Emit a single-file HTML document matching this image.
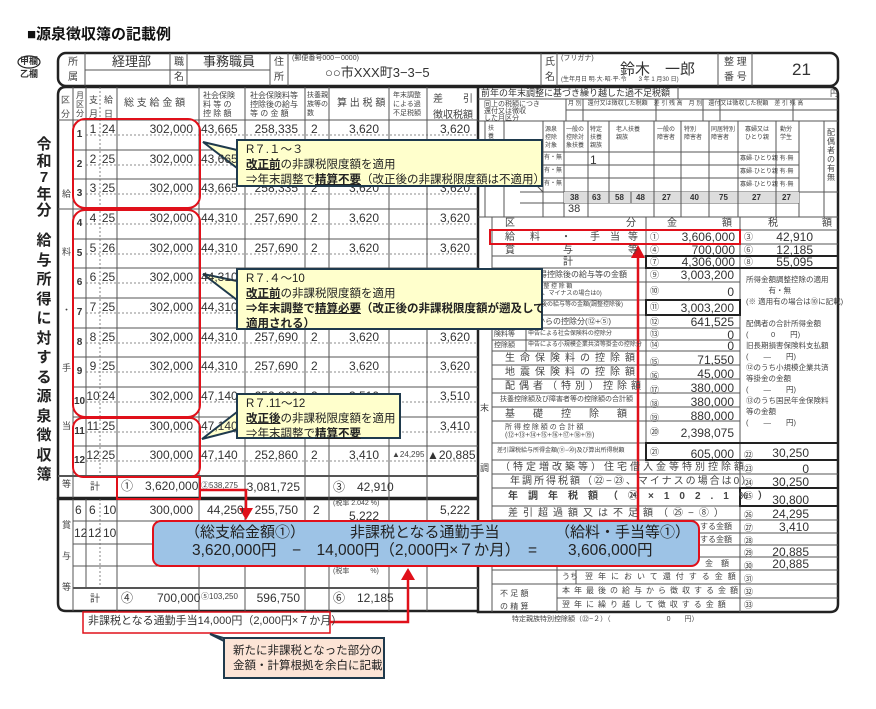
<!DOCTYPE html>
<html><head><meta charset="utf-8">
<style>
html,body{margin:0;padding:0;background:#fff;}
body{width:876px;height:709px;position:relative;overflow:hidden;font-family:"Liberation Sans","Noto Sans CJK JP",sans-serif;color:#333;}
.t{position:absolute;white-space:nowrap;line-height:1;}
.n{font-size:12px;}
.r{text-align:right;}
.c{text-align:center;}
.s{font-size:8px;color:#444;}
.m{font-size:10px;color:#444;}
.v{font-size:15px;font-weight:bold;color:#222;}
.co{position:absolute;font-size:11.5px;line-height:15px;color:#222;padding:2px 0 0 8px;box-sizing:border-box;white-space:nowrap;}
.co b{font-weight:bold;text-decoration:underline;}
svg{position:absolute;left:0;top:0;}
</style></head><body>
<svg width="876" height="709">
<rect x="58" y="53" width="780" height="33" rx="8" fill="none" stroke="#222" stroke-width="2.5"/>
<g stroke="#555" stroke-width="1">
<line x1="85" y1="53" x2="85" y2="86"/><line x1="170" y1="53" x2="170" y2="86"/><line x1="187" y1="53" x2="187" y2="86"/>
<line x1="270" y1="53" x2="270" y2="86"/><line x1="288" y1="53" x2="288" y2="86"/>
<line x1="85" y1="70" x2="270" y2="70"/>
<line x1="541" y1="53" x2="541" y2="86"/><line x1="557" y1="53" x2="557" y2="86"/>
<line x1="718" y1="53" x2="718" y2="86"/><line x1="752" y1="53" x2="752" y2="86"/>
</g>
<ellipse cx="29" cy="62" rx="11" ry="6" fill="none" stroke="#222" stroke-width="1.2"/>
<path d="M478 87 L66 87 Q58 87 58 95 L58 498 L478 498" fill="none" stroke="#222" stroke-width="2.5"/>
<path d="M478 499 L58 499 L58 603 Q58 611 66 611 L478 611" fill="none" stroke="#222" stroke-width="2.5"/>
<path d="M478 87 L830 87 Q838 87 838 95 L838 604 Q838 612 830 612 L478 612 Z" fill="none" stroke="#222" stroke-width="2.5"/>
<g stroke="#555" stroke-width="1">
<line x1="73" y1="87" x2="73" y2="476"/><line x1="86" y1="87" x2="86" y2="476"/>
<line x1="117" y1="87" x2="117" y2="611"/><line x1="199" y1="87" x2="199" y2="611"/>
<line x1="245" y1="87" x2="245" y2="611"/><line x1="305" y1="87" x2="305" y2="611"/>
<line x1="329" y1="87" x2="329" y2="611"/><line x1="389" y1="87" x2="389" y2="611"/>
<line x1="427" y1="87" x2="427" y2="611"/>
<line x1="73" y1="499" x2="73" y2="588"/><line x1="86" y1="499" x2="86" y2="588"/>
<line x1="73" y1="476" x2="73" y2="498"/><line x1="73" y1="588" x2="73" y2="611"/>
<line x1="58" y1="120" x2="478" y2="120"/>
<line x1="73" y1="150" x2="478" y2="150"/><line x1="73" y1="179" x2="478" y2="179"/>
<line x1="58" y1="209" x2="478" y2="209"/><line x1="73" y1="239" x2="478" y2="239"/>
<line x1="73" y1="268" x2="478" y2="268"/><line x1="73" y1="298" x2="478" y2="298"/>
<line x1="73" y1="328" x2="478" y2="328"/><line x1="73" y1="357" x2="478" y2="357"/>
<line x1="73" y1="387" x2="478" y2="387"/><line x1="73" y1="417" x2="478" y2="417"/>
<line x1="73" y1="446" x2="478" y2="446"/>
<line x1="58" y1="476" x2="478" y2="476" stroke-width="2"/>
<line x1="73" y1="521" x2="478" y2="521"/><line x1="73" y1="544" x2="478" y2="544"/>
<line x1="73" y1="566" x2="478" y2="566"/><line x1="73" y1="588" x2="478" y2="588" stroke-width="2"/>
</g>
<g stroke="#666" stroke-width="0.8" stroke-dasharray="2,2">
<line x1="100" y1="87" x2="100" y2="476"/><line x1="100" y1="499" x2="100" y2="588"/>
<line x1="86" y1="135" x2="478" y2="135"/><line x1="86" y1="165" x2="478" y2="165"/>
<line x1="86" y1="194" x2="478" y2="194"/><line x1="86" y1="224" x2="478" y2="224"/>
<line x1="86" y1="254" x2="478" y2="254"/><line x1="86" y1="283" x2="478" y2="283"/>
<line x1="86" y1="313" x2="478" y2="313"/><line x1="86" y1="343" x2="478" y2="343"/>
<line x1="86" y1="372" x2="478" y2="372"/><line x1="86" y1="402" x2="478" y2="402"/>
<line x1="86" y1="432" x2="478" y2="432"/><line x1="86" y1="461" x2="478" y2="461"/>
</g>
<g stroke="#555" stroke-width="1">
<line x1="478" y1="99" x2="838" y2="99"/><line x1="678" y1="87" x2="678" y2="99"/>
<line x1="478" y1="121" x2="838" y2="121"/><line x1="566" y1="110" x2="838" y2="110"/>
<line x1="566" y1="99" x2="566" y2="121"/><line x1="583" y1="99" x2="583" y2="121"/><line x1="656" y1="99" x2="656" y2="121"/>
<line x1="703" y1="99" x2="703" y2="121"/><line x1="720" y1="99" x2="720" y2="121"/><line x1="793" y1="99" x2="793" y2="121"/>
<line x1="485" y1="121" x2="485" y2="217"/><line x1="504" y1="121" x2="504" y2="217"/>
<line x1="543" y1="121" x2="543" y2="217"/><line x1="564" y1="121" x2="564" y2="217"/>
<line x1="588" y1="121" x2="588" y2="217"/><line x1="609" y1="121" x2="609" y2="203"/>
<line x1="654" y1="121" x2="654" y2="217"/><line x1="681" y1="121" x2="681" y2="217"/>
<line x1="709" y1="121" x2="709" y2="217"/><line x1="738" y1="121" x2="738" y2="217"/>
<line x1="776" y1="121" x2="776" y2="217"/><line x1="799" y1="121" x2="799" y2="217"/>
<line x1="824" y1="121" x2="824" y2="217"/>
<line x1="543" y1="152" x2="799" y2="152"/><line x1="543" y1="165" x2="799" y2="165"/>
<line x1="543" y1="178" x2="799" y2="178"/><line x1="520" y1="192" x2="838" y2="192"/>
<line x1="520" y1="203" x2="799" y2="203"/><line x1="478" y1="217" x2="838" y2="217"/>
<line x1="504" y1="152" x2="543" y2="192"/>
</g>
<rect x="564" y="192" width="235" height="11" fill="#ddd"/>
<g stroke="#555" stroke-width="1">
<line x1="588" y1="192" x2="588" y2="203"/><line x1="609" y1="192" x2="609" y2="203"/><line x1="631" y1="192" x2="631" y2="203"/>
<line x1="654" y1="192" x2="654" y2="203"/><line x1="681" y1="192" x2="681" y2="203"/><line x1="709" y1="192" x2="709" y2="203"/>
<line x1="738" y1="192" x2="738" y2="203"/><line x1="776" y1="192" x2="776" y2="203"/>
<line x1="492" y1="217" x2="492" y2="612"/>
<line x1="646" y1="217" x2="646" y2="460"/><line x1="740" y1="217" x2="740" y2="612"/>
<line x1="492" y1="230" x2="838" y2="230"/><line x1="492" y1="244" x2="838" y2="244"/>
<line x1="492" y1="256" x2="838" y2="256"/><line x1="492" y1="268" x2="838" y2="268"/>
<line x1="492" y1="282" x2="740" y2="282"/><line x1="492" y1="300" x2="740" y2="300"/>
<line x1="492" y1="315" x2="740" y2="315"/><line x1="492" y1="328" x2="740" y2="328"/>
<line x1="492" y1="340" x2="740" y2="340"/><line x1="492" y1="351" x2="740" y2="351"/>
<line x1="492" y1="365" x2="740" y2="365"/><line x1="492" y1="379" x2="740" y2="379"/>
<line x1="492" y1="393" x2="740" y2="393"/><line x1="492" y1="407" x2="740" y2="407"/>
<line x1="492" y1="421" x2="740" y2="421"/><line x1="492" y1="443" x2="838" y2="443"/>
<line x1="492" y1="460" x2="838" y2="460"/><line x1="492" y1="474" x2="838" y2="474"/>
<line x1="492" y1="488" x2="838" y2="488"/><line x1="492" y1="506" x2="838" y2="506"/>
<line x1="492" y1="520" x2="838" y2="520"/><line x1="557" y1="533" x2="838" y2="533"/>
<line x1="557" y1="545" x2="838" y2="545"/><line x1="557" y1="557" x2="838" y2="557"/>
<line x1="492" y1="570" x2="838" y2="570"/><line x1="492" y1="584" x2="838" y2="584"/>
<line x1="557" y1="598" x2="838" y2="598"/>
<line x1="557" y1="520" x2="557" y2="612"/><line x1="576" y1="570" x2="576" y2="584"/>
<line x1="526" y1="328" x2="526" y2="351"/>
</g>
<g fill="none" stroke="#222" stroke-width="2">
<rect x="646" y="256" width="192" height="12"/><rect x="646" y="300" width="94" height="15"/>
<rect x="646" y="443" width="192" height="17"/><rect x="740" y="488" width="98" height="18"/>
</g>
<g fill="none" stroke="#e0101a" stroke-width="2">
<rect x="73" y="119" width="127" height="89" rx="12"/>
<rect x="73" y="210" width="127" height="207" rx="12"/>
<rect x="73" y="418" width="127" height="59" rx="10"/>
<rect x="117" y="477" width="83" height="22"/>
<rect x="490" y="230" width="250" height="14"/>
<rect x="83" y="612" width="247" height="21" stroke-width="1.5"/>
</g>
<g stroke="#e0101a" stroke-width="2.5" fill="none">
<polyline points="200,490 246,490 246,510"/>
<polyline points="330,622 408,622 408,578"/>
<line x1="638" y1="256" x2="638" y2="520"/>
</g>
<g fill="#e0101a">
<polygon points="239,508 253,508 246,520"/>
<polygon points="401,580 415,580 408,568"/>
<polygon points="631,258 645,258 638,245"/>
</g>
<g fill="#ffffcc" stroke="#1f3a4d" stroke-width="2">
<polygon points="237,150 203,142 237,168"/>
<polygon points="237,281 203,274 237,300"/>
<polygon points="237,412 202,439 237,430"/>
</g>
<polygon points="230,640 210,634 242,650" fill="#fce4d6" stroke="#1f3a4d" stroke-width="2"/>
</svg>

<div class="t" style="left:27px;top:27px;font-size:15px;font-weight:bold;color:#111">■源泉徴収簿の記載例</div>
<div class="t" style="left:20px;top:57px;font-size:9px;font-weight:bold">甲欄</div>
<div class="t" style="left:20px;top:70px;font-size:9px;font-weight:bold">乙欄</div>
<div class="t m" style="left:68px;top:58px">所</div><div class="t m" style="left:68px;top:73px">属</div>
<div class="t" style="left:112px;top:55px;font-size:13px">経理部</div>
<div class="t m" style="left:174px;top:58px">職</div><div class="t m" style="left:174px;top:73px">名</div>
<div class="t" style="left:203px;top:55px;font-size:13px">事務職員</div>
<div class="t m" style="left:274px;top:58px">住</div><div class="t m" style="left:274px;top:73px">所</div>
<div class="t s" style="left:292px;top:55px;font-size:7px">(郵便番号000－0000)</div>
<div class="t" style="left:325px;top:66px;font-size:13px">○○市XXX町3−3−5</div>
<div class="t m" style="left:545px;top:58px">氏</div><div class="t m" style="left:545px;top:73px">名</div>
<div class="t s" style="left:561px;top:55px;font-size:7px">(フリガナ)</div>
<div class="t" style="left:620px;top:62px;font-size:15px">鈴木　一郎</div>
<div class="t s" style="left:561px;top:77px;font-size:6px">(生年月日 明·大·昭·平·令　　3 年 1 月30 日)</div>
<div class="t m" style="left:724px;top:58px">整 理</div><div class="t m" style="left:724px;top:73px">番 号</div>
<div class="t" style="left:792px;top:61px;font-size:17px">21</div>

<div class="t v" style="left:36px;top:137px;line-height:16.5px;width:16px;text-align:center">令<br>和<br>7<br>年<br>分</div>
<div class="t v" style="left:36px;top:231px;line-height:19.5px;width:16px;text-align:center">給<br>与<br>所<br>得<br>に<br>対<br>す<br>る<br>源<br>泉<br>徴<br>収<br>簿</div>

<div class="t s" style="left:61px;top:93px;font-size:9px;line-height:14px">区<br>分</div>
<div class="t s" style="left:76px;top:91px;font-size:8px;line-height:9px">月<br>区<br>分</div>
<div class="t s" style="left:89px;top:93px;font-size:9px;line-height:14px">支<br>月</div>
<div class="t s" style="left:104px;top:93px;font-size:9px;line-height:14px">給<br>日</div>
<div class="t m" style="left:124px;top:99px">総 支 給 金 額</div>
<div class="t s" style="left:203px;top:91px;line-height:9px">社会保険<br>料 等 の<br>控 除 額</div>
<div class="t s" style="left:250px;top:91px;line-height:9px">社会保険料等<br>控除後の給与<br>等 の 金 額</div>
<div class="t s" style="left:307px;top:91px;font-size:7px;line-height:9px">扶養親<br>族等の<br>数</div>
<div class="t m" style="left:337px;top:99px">算 出 税 額</div>
<div class="t s" style="left:393px;top:91px;font-size:7px;line-height:9px">年末調整<br>による過<br>不足税額</div>
<div class="t m" style="left:433px;top:92px;line-height:16px">差　　引<br>徴収税額</div>
<div class="t s" style="left:62px;top:165px;line-height:58px;font-size:9px">給<br>料<br>・<br>手<br>当<br>等</div>

<div class="t n c" style="left:73px;width:13px;top:120px;font-size:10px;font-weight:bold;line-height:29.67px">1<br>2<br>3<br>4<br>5<br>6<br>7<br>8<br>9<br>10<br>11<br>12</div>
<div class="t n c" style="left:86px;width:14px;top:115px;line-height:29.67px">1<br>2<br>3<br>4<br>5<br>6<br>7<br>8<br>9<br>10<br>11<br>12</div>
<div class="t n c" style="left:100px;width:17px;top:115px;line-height:29.67px">24<br>25<br>25<br>25<br>26<br>25<br>25<br>25<br>25<br>24<br>25<br>25</div>
<div class="t n r" style="left:120px;width:73px;top:115px;line-height:29.67px">302,000<br>302,000<br>302,000<br>302,000<br>302,000<br>302,000<br>302,000<br>302,000<br>302,000<br>302,000<br>300,000<br>300,000</div>
<div class="t n" style="left:201px;top:115px;line-height:29.67px">43,665<br>43,665<br>43,665<br>44,310<br>44,310<br>44,310<br>44,310<br>44,310<br>44,310<br>47,140<br>47,140<br>47,140</div>
<div class="t n r" style="left:245px;width:53px;top:115px;line-height:29.67px">258,335<br>258,335<br>258,335<br>257,690<br>257,690<br>257,690<br>257,690<br>257,690<br>257,690<br>252,860<br>252,860<br>252,860</div>
<div class="t n" style="left:311px;top:115px;line-height:29.67px">2<br>2<br>2<br>2<br>2<br>2<br>2<br>2<br>2<br>2<br>2<br>2</div>
<div class="t n r" style="left:329px;width:50px;top:115px;line-height:29.67px">3,620<br>3,620<br>3,620<br>3,620<br>3,620<br>3,620<br>3,620<br>3,620<br>3,620<br>3,510<br>3,410<br>3,410</div>
<div class="t n r" style="left:427px;width:43px;top:115px;line-height:29.67px">3,620<br>3,620<br>3,620<br>3,620<br>3,620<br>3,620<br>3,620<br>3,620<br>3,620<br>3,510<br>3,410<br>▲20,885</div>
<div class="t s" style="left:392px;top:451px;font-size:8px">▲24,295</div>
<div class="t m" style="left:90px;top:483px">計</div>
<div class="t n" style="left:121px;top:480px">①　3,620,000</div>
<div class="t s" style="left:201px;top:482px;font-size:8px">②538,275</div>
<div class="t n r" style="left:245px;width:55px;top:481px">3,081,725</div>
<div class="t n" style="left:333px;top:481px">③　42,910</div>
<div class="t s" style="left:62px;top:510px;line-height:31px;font-size:9px">賞<br>与<br>等</div>
<div class="t n" style="left:75px;top:504px">6</div><div class="t n" style="left:89px;top:504px">6</div><div class="t n" style="left:103px;top:504px">10</div>
<div class="t n r" style="left:120px;width:73px;top:504px">300,000</div>
<div class="t n" style="left:207px;top:504px">44,250</div>
<div class="t n r" style="left:245px;width:53px;top:504px">255,750</div>
<div class="t n" style="left:313px;top:504px">2</div>
<div class="t s" style="left:333px;top:500px;font-size:7px">(税率 2.042 %)</div>
<div class="t n r" style="left:329px;width:50px;top:510px">5,222</div>
<div class="t n r" style="left:427px;width:43px;top:504px">5,222</div>
<div class="t n" style="left:74px;top:527px">12</div><div class="t n" style="left:88px;top:527px">12</div><div class="t n" style="left:103px;top:527px">10</div>
<div class="t s" style="left:333px;top:568px;font-size:7px">(税率　　　%)</div>
<div class="t m" style="left:90px;top:595px">計</div>
<div class="t n" style="left:121px;top:592px">④　　700,000</div>
<div class="t s" style="left:201px;top:593px;font-size:8px">⑤103,250</div>
<div class="t n r" style="left:245px;width:55px;top:592px">596,750</div>
<div class="t n" style="left:333px;top:592px">⑥　12,185</div>

<div class="t" style="left:481px;top:89px;font-size:9px">前年の年末調整に基づき繰り越した過不足税額</div>
<div class="t s" style="left:830px;top:90px">円</div>
<div class="t s" style="left:484px;top:101px;font-size:7px;line-height:7px">同上の税額につき<br>還付又は徴収<br>した月区分</div>
<div class="t s" style="left:568px;top:101px;font-size:6px">月 別　還付又は徴収した税額　差 引 残 高　月 別　還付又は徴収した税額　差 引 残 高</div>
<div class="t s" style="left:488px;top:125px;font-size:6px;line-height:8px">扶<br>養<br>控<br>除<br>額</div>
<div class="t s" style="left:545px;top:126px;font-size:6px;line-height:8px">源泉<br>控除<br>対象</div>
<div class="t s" style="left:566px;top:126px;font-size:6px;line-height:8px">一般の<br>控除対<br>象扶養</div>
<div class="t s" style="left:590px;top:126px;font-size:6px;line-height:8px">特定<br>扶養<br>親族</div>
<div class="t s" style="left:616px;top:126px;font-size:6px;line-height:8px">老人扶養<br>親族</div>
<div class="t s" style="left:657px;top:126px;font-size:6px;line-height:8px">一般の<br>障害者</div>
<div class="t s" style="left:684px;top:126px;font-size:6px;line-height:8px">特別<br>障害者</div>
<div class="t s" style="left:711px;top:126px;font-size:6px;line-height:8px">同居特別<br>障害者</div>
<div class="t s" style="left:745px;top:126px;font-size:6px;line-height:8px">寡婦又は<br>ひとり親</div>
<div class="t s" style="left:780px;top:126px;font-size:6px;line-height:8px">勤労<br>学生</div>
<div class="t n" style="left:590px;top:154px">1</div>
<div class="t s" style="left:544px;top:155px;font-size:6px">有・無</div>
<div class="t s" style="left:544px;top:168px;font-size:6px">有・無</div>
<div class="t s" style="left:544px;top:181px;font-size:6px">有・無</div>
<div class="t s" style="left:740px;top:156px;font-size:6px">寡婦·ひとり親 有·無</div>
<div class="t s" style="left:740px;top:169px;font-size:6px">寡婦·ひとり親 有·無</div>
<div class="t s" style="left:740px;top:182px;font-size:6px">寡婦·ひとり親 有·無</div>
<div class="t" style="left:570px;top:194px;font-size:8px;font-weight:bold">38</div>
<div class="t" style="left:592px;top:194px;font-size:8px;font-weight:bold">63</div>
<div class="t" style="left:615px;top:194px;font-size:8px;font-weight:bold">58</div>
<div class="t" style="left:636px;top:194px;font-size:8px;font-weight:bold">48</div>
<div class="t" style="left:662px;top:194px;font-size:8px;font-weight:bold">27</div>
<div class="t" style="left:690px;top:194px;font-size:8px;font-weight:bold">40</div>
<div class="t" style="left:719px;top:194px;font-size:8px;font-weight:bold">75</div>
<div class="t" style="left:752px;top:194px;font-size:8px;font-weight:bold">27</div>
<div class="t" style="left:782px;top:194px;font-size:8px;font-weight:bold">27</div>
<div class="t n" style="left:568px;top:204px;font-size:11px">38</div>
<div class="t s" style="left:827px;top:128px;font-size:8px;line-height:9px">配<br>偶<br>者<br>の<br>有<br>無</div>

<div class="t m" style="left:505px;top:219px">区</div><div class="t m" style="left:626px;top:219px">分</div>
<div class="t m" style="left:667px;top:219px">金</div><div class="t m" style="left:722px;top:219px">額</div>
<div class="t m" style="left:768px;top:219px">税</div><div class="t m" style="left:822px;top:219px">額</div>
<div class="t m" style="left:505px;top:233px">給</div><div class="t m" style="left:530px;top:233px">料</div><div class="t m" style="left:561px;top:233px">・</div><div class="t m" style="left:590px;top:233px">手</div><div class="t m" style="left:610px;top:233px">当</div><div class="t m" style="left:628px;top:233px">等</div>
<div class="t m" style="left:505px;top:246px">賞</div><div class="t m" style="left:563px;top:246px">与</div><div class="t m" style="left:628px;top:246px">等</div>
<div class="t m" style="left:563px;top:258px">計</div>
<div class="t s" style="left:650px;top:233px;font-size:9px">①</div>
<div class="t s" style="left:650px;top:246px;font-size:9px">④</div>
<div class="t s" style="left:650px;top:258px;font-size:9px">⑦</div>
<div class="t n r" style="left:646px;width:89px;top:231px">3,606,000</div>
<div class="t n r" style="left:646px;width:89px;top:244px">700,000</div>
<div class="t n r" style="left:646px;width:89px;top:256px">4,306,000</div>
<div class="t s" style="left:744px;top:233px;font-size:9px">③</div>
<div class="t s" style="left:744px;top:246px;font-size:9px">⑥</div>
<div class="t s" style="left:744px;top:258px;font-size:9px">⑧</div>
<div class="t n r" style="left:740px;width:73px;top:231px">42,910</div>
<div class="t n r" style="left:740px;width:73px;top:244px">12,185</div>
<div class="t n r" style="left:740px;width:73px;top:256px">55,095</div>

<div class="t s" style="left:515px;top:271px">給与所得控除後の給与等の金額</div>
<div class="t s" style="left:505px;top:284px;font-size:6px;line-height:7px">所 得 金 額 調 整 控 除 額<br>(　　円)×10%、マイナスの場合は0)</div>
<div class="t s" style="left:505px;top:302px;font-size:6px;line-height:6px">給与所得控除後の給与等の金額(調整控除後)<br>(⑨−⑩)</div>
<div class="t s" style="left:505px;top:318px">給与所得からの控除分(⑫+⑤)</div>
<div class="t s" style="left:494px;top:331px;font-size:7px">険料等</div><div class="t s" style="left:494px;top:342px;font-size:7px">控除額</div>
<div class="t s" style="left:528px;top:331px;font-size:6px">申告による社会保険料の控除分</div>
<div class="t s" style="left:528px;top:342px;font-size:6px">申告による小規模企業共済等掛金の控除分</div>
<div class="t m" style="left:505px;top:354px;letter-spacing:5px">生命保険料の控除額</div>
<div class="t m" style="left:505px;top:368px;letter-spacing:5px">地震保険料の控除額</div>
<div class="t m" style="left:505px;top:382px;letter-spacing:4px">配偶者（特別）控除額</div>
<div class="t s" style="left:500px;top:396px;font-size:7px">扶養控除額及び障害者等の控除額の合計額</div>
<div class="t m" style="left:505px;top:410px;letter-spacing:18px">基礎控除額</div>
<div class="t s" style="left:505px;top:424px;font-size:7px;line-height:8px">所 得 控 除 額 の 合 計 額<br>(⑫+⑬+⑭+⑮+⑯+⑰+⑱+⑲)</div>
<div class="t s" style="left:497px;top:448px;font-size:6px">差引課税給与所得金額(⑪−⑳)及び算出所得税額</div>
<div class="t s" style="left:650px;top:271px;font-size:9px">⑨</div>
<div class="t s" style="left:650px;top:287px;font-size:9px">⑩</div>
<div class="t s" style="left:650px;top:303px;font-size:9px">⑪</div>
<div class="t s" style="left:650px;top:318px;font-size:9px">⑫</div>
<div class="t s" style="left:650px;top:330px;font-size:9px">⑬</div>
<div class="t s" style="left:650px;top:341px;font-size:9px">⑭</div>
<div class="t n r" style="left:646px;width:88px;top:269px">3,003,200</div>
<div class="t n r" style="left:646px;width:88px;top:286px">0</div>
<div class="t n r" style="left:646px;width:88px;top:302px">3,003,200</div>
<div class="t n r" style="left:646px;width:88px;top:316px">641,525</div>
<div class="t n r" style="left:646px;width:88px;top:329px">0</div>
<div class="t n r" style="left:646px;width:88px;top:340px">0</div>
<div class="t s" style="left:650px;top:355px;font-size:9px;line-height:14px">⑮<br>⑯<br>⑰<br>⑱<br>⑲</div>
<div class="t n r" style="left:646px;width:88px;top:353px;line-height:14px">71,550<br>45,000<br>380,000<br>380,000<br>880,000</div>
<div class="t s" style="left:650px;top:428px;font-size:9px">⑳</div>
<div class="t n r" style="left:646px;width:88px;top:427px">2,398,075</div>
<div class="t s" style="left:650px;top:448px;font-size:9px">㉑</div>
<div class="t n r" style="left:646px;width:88px;top:448px">605,000</div>
<div class="t m" style="left:500px;top:463px;letter-spacing:3px">（特定増改築等）住宅借入金等特別控除額</div>
<div class="t m" style="left:510px;top:477px;letter-spacing:2px">年調所得税額（㉒−㉓、マイナスの場合は0）</div>
<div class="t m" style="left:508px;top:492px;font-weight:bold;letter-spacing:10px">年調年税額（㉔×102.1%）</div>
<div class="t m" style="left:508px;top:509px;letter-spacing:5px">差引超過額又は不足額（㉕−⑧）</div>
<div class="t s" style="left:700px;top:523px">する金額</div>
<div class="t s" style="left:700px;top:536px">する金額</div>
<div class="t s" style="left:705px;top:560px">金　額</div>
<div class="t s" style="left:562px;top:573px;font-size:8px">うち</div>
<div class="t s" style="left:585px;top:573px;font-size:8px;letter-spacing:5px">翌年において還付する金額</div>
<div class="t s" style="left:500px;top:587px;font-size:8px;line-height:13px">不 足 額<br>の 精 算</div>
<div class="t s" style="left:562px;top:587px;font-size:8px;letter-spacing:4px">本年最後の給与から徴収する金額</div>
<div class="t s" style="left:562px;top:601px;font-size:8px;letter-spacing:4px">翌年に繰り越して徴収する金額</div>
<div class="t s" style="left:744px;top:448px;font-size:9px;line-height:14px">㉒<br>㉓<br>㉔</div>
<div class="t s" style="left:744px;top:492px;font-size:9px">㉕</div>
<div class="t s" style="left:744px;top:509px;font-size:9px;line-height:12.8px">㉖<br>㉗<br>㉘<br>㉙<br>㉚<br>㉛<br>㉜<br>㉝</div>
<div class="t n r" style="left:740px;width:69px;top:447px">30,250</div>
<div class="t n r" style="left:740px;width:69px;top:463px">0</div>
<div class="t n r" style="left:740px;width:69px;top:476px">30,250</div>
<div class="t n r" style="left:740px;width:69px;top:494px">30,800</div>
<div class="t n r" style="left:740px;width:69px;top:508px">24,295</div>
<div class="t n r" style="left:740px;width:69px;top:521px">3,410</div>
<div class="t n r" style="left:740px;width:69px;top:546px">20,885</div>
<div class="t n r" style="left:740px;width:69px;top:558px">20,885</div>
<div class="t s" style="left:480px;top:378px;font-size:9px;line-height:60px">末<br>調<br>整</div>
<div class="t s" style="left:746px;top:274px;font-size:7.5px;line-height:11px">所得金額調整控除の適用<br>　　　有・無<br>(※ 適用有の場合は⑩に記載)<br><br>配偶者の合計所得金額<br>(　　　0　　円)<br>旧長期損害保険料支払額<br>(　　—　　円)<br>⑫のうち小規模企業共済<br>等掛金の金額<br>(　　—　　円)<br>⑬のうち国民年金保険料<br>等の金額<br>(　　—　　円)</div>
<div class="t s" style="left:512px;top:616px;font-size:7px">特定親族特別控除額（㉒−２）（　　　　　　　　0　　円）</div>

<div class="co" style="left:236px;top:139px;width:307px;height:48px;background:#ffffcc;border:2px solid #1f3a4d">R７.１～３<br><b>改正前</b>の非課税限度額を適用<br>⇒年末調整で<b>精算不要</b>（改正後の非課税限度額は不適用）</div>
<div class="co" style="left:236px;top:268px;width:307px;height:62px;background:#ffffcc;border:2px solid #1f3a4d">R７.４～10<br><b>改正前</b>の非課税限度額を適用<br><span style="font-weight:bold">⇒年末調整で<b>精算必要</b>（改正後の非課税限度額が遡及して<br>適用される）</span></div>
<div class="co" style="left:236px;top:393px;width:165px;height:46px;background:#ffffcc;border:2px solid #1f3a4d">R７.11～12<br><b>改正後</b>の非課税限度額を適用<br>⇒年末調整で<b>精算不要</b></div>
<div class="co" style="left:223px;top:637px;width:162px;height:42px;background:#fce4d6;border:2px solid #1f3a4d;padding:5px 0 0 8px">新たに非課税となった部分の<br>金額・計算根拠を余白に記載</div>
<div class="t" style="left:88px;top:616px;font-size:11px;color:#333">非課税となる通勤手当14,000円（2,000円×７か月）</div>

<div style="position:absolute;left:152px;top:520px;width:548px;height:47px;box-sizing:border-box;background:#9dc3e6;border:2px solid #e0101a;border-radius:9px"></div>
<div class="t" style="left:185px;top:525px;font-size:15px;color:#222">（総支給金額①）</div>
<div class="t" style="left:350px;top:525px;font-size:15px;color:#222">非課税となる通勤手当</div>
<div class="t" style="left:555px;top:525px;font-size:15px;color:#222">（給料・手当等①）</div>
<div class="t" style="left:192px;top:543px;font-size:15.5px;color:#222">3,620,000円　−　14,000円（2,000円×７か月）　=　　3,606,000円</div>
</body></html>
